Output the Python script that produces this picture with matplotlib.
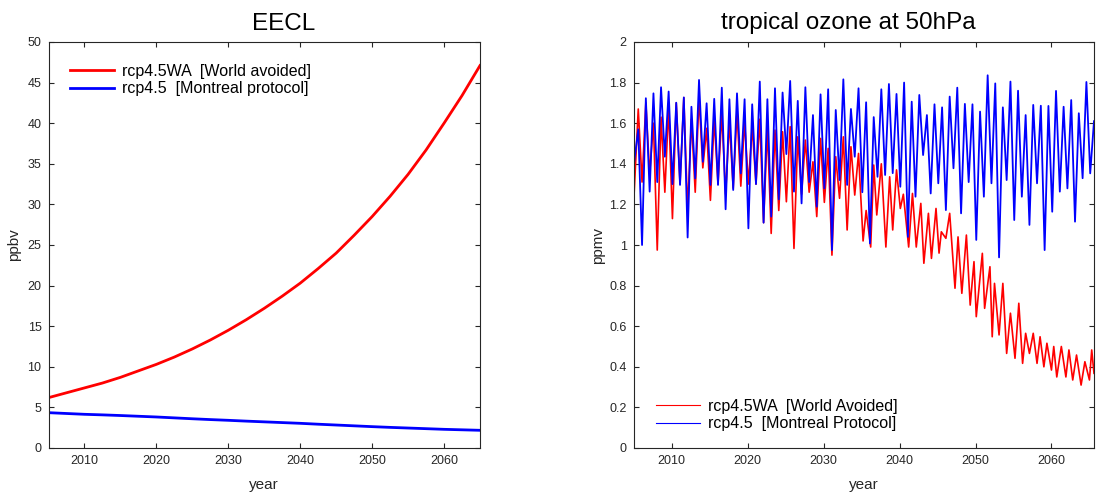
import matplotlib
matplotlib.use("Agg")
import matplotlib.pyplot as plt
import numpy as np
from matplotlib.ticker import FuncFormatter

plt.rcParams['font.family'] = ['Liberation Sans', 'DejaVu Sans']

# ---- EECL (left panel), read every 2.5 years
eecl_year = [2005, 2007.5, 2010, 2012.5, 2015, 2017.5, 2020, 2022.5, 2025, 2027.5,
             2030, 2032.5, 2035, 2037.5, 2040, 2042.5, 2045, 2047.5, 2050, 2052.5,
             2055, 2057.5, 2060, 2062.5, 2065]
eecl_wa = [6.2, 6.8, 7.4, 8.0, 8.7, 9.5, 10.3, 11.2, 12.2, 13.3,
           14.5, 15.8, 17.2, 18.7, 20.3, 22.1, 24.0, 26.2, 28.5, 31.0,
           33.7, 36.7, 40.0, 43.4, 47.1]
eecl_mp = [4.35, 4.25, 4.15, 4.08, 4.0, 3.91, 3.82, 3.71, 3.6, 3.5,
           3.41, 3.31, 3.22, 3.13, 3.04, 2.93, 2.83, 2.73, 2.63, 2.54,
           2.46, 2.38, 2.30, 2.24, 2.18]

# ---- tropical ozone at 50hPa (right panel)
# rcp4.5: annual maxima (mid-year) 2005..2064 and minima (early year) 2006..2065
mp_start = 1.39
mp_peaks = [1.57, 1.723, 1.747, 1.777, 1.756, 1.701, 1.727, 1.681, 1.813, 1.698,
            1.72, 1.775, 1.718, 1.747, 1.718, 1.693, 1.805, 1.718, 1.772, 1.751,
            1.808, 1.71, 1.777, 1.64, 1.742, 1.767, 1.665, 1.816, 1.67, 1.772,
            1.703, 1.63, 1.767, 1.793, 1.744, 1.80, 1.706, 1.739, 1.64, 1.693,
            1.678, 1.731, 1.775, 1.695, 1.693, 1.657, 1.836, 1.796, 1.678, 1.805,
            1.76, 1.64, 1.69, 1.686, 1.685, 1.759, 1.681, 1.714, 1.649, 1.803]
mp_troughs = [1.00, 1.263, 1.31, 1.435, 1.30, 1.296, 1.037, 1.328, 1.41, 1.296,
              1.296, 1.176, 1.271, 1.353, 1.082, 1.30, 1.11, 1.14, 1.225, 1.448,
              1.263, 1.205, 1.31, 1.189, 1.279, 0.975, 1.32, 1.296, 1.435, 1.26,
              1.008, 1.336, 1.345, 1.354, 1.287, 1.04, 1.238, 1.443, 1.254, 1.304,
              1.172, 1.378, 1.156, 1.31, 1.025, 1.238, 1.304, 0.939, 1.32, 1.123,
              1.238, 1.099, 1.304, 0.975, 1.164, 1.263, 1.279, 1.115, 1.329, 1.353]
mp_end = 1.61

# rcp4.5WA: annual maxima 2005..2034, minima 2006..2034, then traced points
wa_start = 1.21
wa_peaks = [1.67, 1.70, 1.60, 1.63, 1.68, 1.70, 1.726, 1.62, 1.73, 1.575,
            1.62, 1.649, 1.607, 1.66, 1.607, 1.583, 1.62, 1.575, 1.566, 1.558,
            1.583, 1.533, 1.517, 1.41, 1.525, 1.476, 1.435, 1.533, 1.484, 1.451]
wa_troughs = [1.31, 1.35, 0.975, 1.26, 1.13, 1.30, 1.17, 1.26, 1.38, 1.22,
              1.30, 1.25, 1.28, 1.29, 1.30, 1.30, 1.11, 1.057, 1.17, 1.213,
              0.983, 1.25, 1.26, 1.14, 1.21, 0.95, 1.23, 1.074, 1.246]
wa_late_year = [2035.2, 2035.6, 2036.2, 2036.6, 2037.0, 2037.6, 2038.2, 2038.7, 2039.1, 2039.6,
                2040.1, 2040.5, 2041.2, 2041.7, 2042.2, 2042.8, 2043.2, 2043.8, 2044.2, 2044.8,
                2045.2, 2045.5, 2046.1, 2046.6, 2047.3, 2047.7, 2048.2, 2048.8, 2049.3, 2049.8,
                2050.1, 2050.9, 2051.2, 2051.9, 2052.2, 2052.5, 2053.1, 2053.6, 2054.1, 2054.6,
                2055.2, 2055.7, 2056.2, 2056.6, 2057.1, 2057.6, 2058.1, 2058.5, 2059.0, 2059.4,
                2060.0, 2060.3, 2060.7, 2061.3, 2061.9, 2062.3, 2062.8, 2063.3, 2063.9, 2064.4,
                2065.0, 2065.3, 2065.6]
wa_late = [1.02, 1.17, 0.99, 1.394, 1.148, 1.40, 0.99, 1.336, 1.074, 1.37,
           1.18, 1.25, 0.99, 1.254, 0.99, 1.205, 0.91, 1.156, 0.934, 1.18,
           0.96, 1.065, 1.033, 1.156, 0.787, 1.04, 0.762, 1.049, 0.704, 0.918,
           0.647, 0.959, 0.688, 0.893, 0.548, 0.811, 0.557, 0.811, 0.466, 0.664,
           0.442, 0.713, 0.417, 0.565, 0.466, 0.565, 0.417, 0.548, 0.40, 0.516,
           0.384, 0.50, 0.35, 0.50, 0.35, 0.483, 0.335, 0.458, 0.31, 0.425,
           0.335, 0.483, 0.368]

# build time series: peaks around k+0.6, troughs around k+0.1
def interleave(start_t, start_v, pk_t, pk, tr_t, tr):
    t = [start_t]
    v = [start_v]
    for i in range(len(pk)):
        t.append(pk_t[i]); v.append(pk[i])
        if i < len(tr):
            t.append(tr_t[i]); v.append(tr[i])
    return t, v

mp_t, mp_v = interleave(2005.0, mp_start,
                        np.arange(2005, 2065) + 0.6, mp_peaks,
                        np.arange(2006, 2066) + 0.1, mp_troughs)
mp_t.append(2065.6); mp_v.append(mp_end)

wa_t, wa_v = interleave(2005.0, wa_start,
                        np.arange(2005, 2035) + 0.6, wa_peaks,
                        np.arange(2006, 2035) + 0.1, wa_troughs)
wa_t += wa_late_year
wa_v += wa_late

red = '#ff0000'
blue = '#0000ff'
axc = '#262626'

fig = plt.figure(figsize=(10.96, 4.93), dpi=100)
ax1 = fig.add_axes([48.5/1096, 45/493, 431.5/1096, 406/493])
ax2 = fig.add_axes([633.7/1096, 45/493, 460.3/1096, 406/493])

ax1.plot(eecl_year, eecl_wa, c=red, lw=2.0, label='rcp4.5WA  [World avoided]')
ax1.plot(eecl_year, eecl_mp, c=blue, lw=2.0, label='rcp4.5  [Montreal protocol]')
ax1.set_xlim(2005, 2065)
ax1.set_ylim(0, 50)
ax1.set_yticks(np.arange(0, 51, 5))
ax1.set_xticks(np.arange(2010, 2061, 10))
ax1.set_title('EECL', fontsize=17.5, pad=9, x=0.546)
ax1.set_ylabel('ppbv', fontsize=11)
ax1.set_xlabel('year', fontsize=11)
ax1.legend(loc='upper left', frameon=False, fontsize=11.5, handlelength=2.75,
           handletextpad=0.5, bbox_to_anchor=(0.035, 0.962), borderaxespad=0,
           labelspacing=0.15)

ax2.plot(wa_t, wa_v, c=red, lw=1.2, label='rcp4.5WA  [World Avoided]')
ax2.plot(mp_t, mp_v, c=blue, lw=1.3, label='rcp4.5  [Montreal Protocol]')
ax2.set_xlim(2005, 2065.6)
ax2.set_ylim(0, 2)
ax2.set_yticks(np.arange(0, 2.01, 0.2))
ax2.yaxis.set_major_formatter(FuncFormatter(lambda v, p: '%g' % round(v, 1)))
ax2.set_xticks(np.arange(2010, 2061, 10))
ax2.set_title('tropical ozone at 50hPa', fontsize=17.5, pad=9, x=0.466)
ax2.set_ylabel('ppmv', fontsize=11)
ax2.set_xlabel('year', fontsize=11)
leg = ax2.legend(loc='lower left', frameon=False, fontsize=11.5, handlelength=2.75,
                 handletextpad=0.5, bbox_to_anchor=(0.035, 0.025), borderaxespad=0,
                 labelspacing=0.15)
for h in leg.legend_handles:
    h.set_linewidth(0.8)

for ax in (ax1, ax2):
    ax.tick_params(direction='in', top=True, right=True, length=3.5, width=0.8,
                   labelsize=9, colors=axc, pad=5)
    for s in ax.spines.values():
        s.set_color(axc)
        s.set_linewidth(0.8)
    ax.xaxis.label.set_color(axc)
    ax.yaxis.label.set_color(axc)
    ax.xaxis.set_label_coords(0.5, -0.075)
ax1.yaxis.set_label_coords(-0.064, 0.5)
ax2.yaxis.set_label_coords(-0.0625, 0.5)

fig.savefig('out.png', dpi=100)
